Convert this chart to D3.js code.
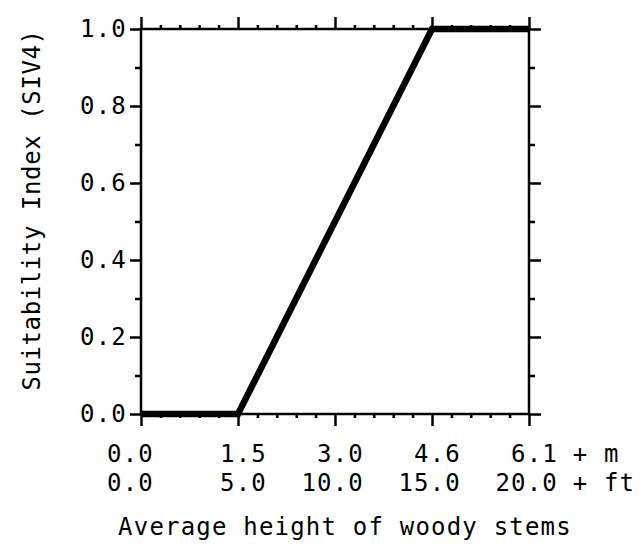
<!DOCTYPE html>
<meta charset="utf-8">
<head>
  <title>Suitability index curve</title>
</head>

<style>
body { margin: 0; background: #fff; }
text {
  font-family: "DejaVu Sans Mono", monospace;
  fill: black;
  font-size: 24px;
  letter-spacing: 1.2px;
}
.axis path { display: none; }
.axis line { stroke: black; stroke-width: 2.5; }
</style>

<body>
  <svg width="643" height="548"></svg>

  <script src="https://cdnjs.cloudflare.com/ajax/libs/d3/7.8.5/d3.min.js"></script>
  <script>

// curve: height in feet vs suitability index
var heightFt = [0, 5, 15, 20];
var siValues = [0, 0, 1, 1];

// tick labels
var xTicksFt = [0, 5, 10, 15, 20];
var mLabels = ["0.0", "1.5", "3.0", "4.6", "6.1"];
var ftLabels = ["0.0", "5.0", "10.0", "15.0", "20.0"];
var yTicks = [0, 0.2, 0.4, 0.6, 0.8, 1.0];
var yMinor = [0.1, 0.3, 0.5, 0.7, 0.9];
var xMinor = d3.range(0, 21).filter(function(d) { return d % 5 !== 0; });

var pLeft = 141, pRight = 529, pTop = 29, pBottom = 414;

var x = d3.scaleLinear().domain([0, 20]).range([pLeft, pRight]);
var y = d3.scaleLinear().domain([0, 1]).range([pBottom, pTop]);

var svg = d3.select('svg');

// major / minor ticks on all four sides
svg.append('g').attr('class', 'axis')
  .attr('transform', 'translate(' + pLeft + ',0)')
  .call(d3.axisLeft(y).tickValues(yTicks).tickSize(11).tickPadding(3).tickFormat(d3.format('.1f')));
svg.append('g').attr('class', 'axis')
  .attr('transform', 'translate(' + pLeft + ',0)')
  .call(d3.axisLeft(y).tickValues(yMinor).tickSize(6).tickFormat(''));
svg.append('g').attr('class', 'axis')
  .attr('transform', 'translate(' + pRight + ',0)')
  .call(d3.axisRight(y).tickValues(yTicks).tickSize(12).tickFormat(''));
svg.append('g').attr('class', 'axis')
  .attr('transform', 'translate(' + pRight + ',0)')
  .call(d3.axisRight(y).tickValues(yMinor).tickSize(6).tickFormat(''));
svg.append('g').attr('class', 'axis')
  .attr('transform', 'translate(0,' + pTop + ')')
  .call(d3.axisTop(x).tickValues(xTicksFt).tickSize(12).tickFormat(''));
svg.append('g').attr('class', 'axis')
  .attr('transform', 'translate(0,' + pTop + ')')
  .call(d3.axisTop(x).tickValues(xMinor).tickSize(4).tickFormat(''));
svg.append('g').attr('class', 'axis')
  .attr('transform', 'translate(0,' + pBottom + ')')
  .call(d3.axisBottom(x).tickValues(xTicksFt).tickSize(12).tickFormat(''));
svg.append('g').attr('class', 'axis')
  .attr('transform', 'translate(0,' + pBottom + ')')
  .call(d3.axisBottom(x).tickValues(xMinor).tickSize(4).tickFormat(''));

svg.selectAll('.axis text').attr('fill', 'black').style('font-size', '24px')
  .style('font-family', '"DejaVu Sans Mono", monospace');

// frame
svg.append('rect')
  .attr('x', pLeft).attr('y', pTop)
  .attr('width', pRight - pLeft).attr('height', pBottom - pTop)
  .attr('fill', 'none').attr('stroke', 'black').attr('stroke-width', 2.5);

// curve
var line = d3.line()
  .x(function(d, i) { return x(heightFt[i]); })
  .y(function(d) { return y(d); });

svg.append('path')
  .datum(siValues)
  .attr('d', line)
  .attr('fill', 'none')
  .attr('stroke', 'black')
  .attr('stroke-width', 6.5)
  .attr('stroke-linejoin', 'miter');

// x labels, typed in right-aligned columns
function colX(d, i) { return x(d) + (i === 0 ? 13 : 29); }

svg.selectAll('.mlab').data(xTicksFt).enter().append('text')
  .attr('x', colX).attr('y', 462)
  .attr('text-anchor', 'end')
  .text(function(d, i) { return mLabels[i]; });
svg.selectAll('.ftlab').data(xTicksFt).enter().append('text')
  .attr('x', colX).attr('y', 491)
  .attr('text-anchor', 'end')
  .text(function(d, i) { return ftLabels[i]; });

svg.append('text').attr('x', x(20) + 28).attr('y', 462).text('\u00a0+\u00a0m');
svg.append('text').attr('x', x(20) + 28).attr('y', 491).text('\u00a0+\u00a0ft');

// axis titles
svg.append('text')
  .attr('x', 345).attr('y', 535)
  .attr('text-anchor', 'middle')
  .text('Average height of woody stems');

svg.append('text')
  .attr('transform', 'translate(40,210) rotate(-90)')
  .attr('text-anchor', 'middle')
  .style('letter-spacing', '0.6px')
  .text('Suitability Index (SIV4)');

  </script>
</body>
</html>
